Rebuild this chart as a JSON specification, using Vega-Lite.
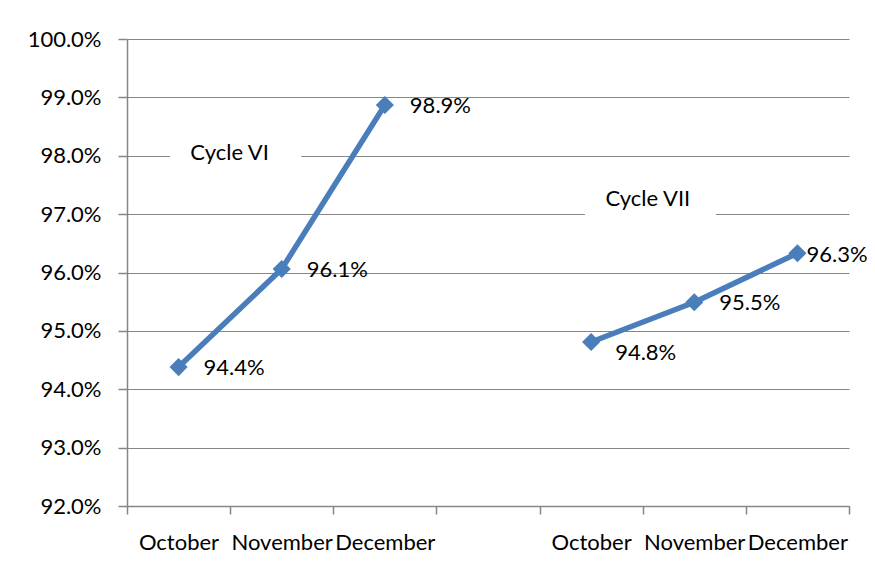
{
  "$schema": "https://vega.github.io/schema/vega-lite/v6.json",
  "width": 722,
  "height": 467,
  "autosize": {"type": "none"},
  "padding": {"left": 127, "top": 39, "right": 26, "bottom": 59},
  "background": "white",
  "config": {
    "view": {"stroke": null},
    "font": "Lato",
    "axis": {
      "labelFont": "Lato",
      "labelFontSize": 22,
      "labelColor": "#000000",
      "domainColor": "#868686",
      "tickColor": "#868686",
      "gridColor": "#868686",
      "domainWidth": 1.5,
      "tickWidth": 1.5,
      "gridWidth": 1.2
    }
  },
  "datasets": {
    "points": [
      {"cycle": "Cycle VI", "month": "October", "slot": 0.5, "rate": 0.9438},
      {"cycle": "Cycle VI", "month": "November", "slot": 1.5, "rate": 0.9606},
      {"cycle": "Cycle VI", "month": "December", "slot": 2.5, "rate": 0.9887},
      {"cycle": "Cycle VII", "month": "October", "slot": 4.5, "rate": 0.9481},
      {"cycle": "Cycle VII", "month": "November", "slot": 5.5, "rate": 0.9549},
      {"cycle": "Cycle VII", "month": "December", "slot": 6.5, "rate": 0.9633}
    ],
    "notes": [
      {"text": "Cycle VI", "x": 0.995, "x1": 0.417, "x2": 1.69, "y": 0.9805, "y1": 0.9836, "y2": 0.9772},
      {"text": "Cycle VII", "x": 5.05, "x1": 4.44, "x2": 5.71, "y": 0.9726, "y1": 0.9757, "y2": 0.9693}
    ]
  },
  "layer": [
    {
      "data": {"name": "notes"},
      "mark": {"type": "rect", "fill": "white"},
      "encoding": {
        "x": {"field": "x1", "type": "quantitative", "scale": {"domain": [0, 7]}, "axis": {
          "values": [0, 1, 2, 3, 4, 5, 6, 7],
          "title": null,
          "grid": false,
          "tickSize": 8,
          "labelPadding": 18,
          "labelOffset": 51.5,
          "labelOverlap": false,
          "labelFlush": false,
          "labelExpr": "['October','November','December','','October','November','December',''][datum.value]"
        }},
        "x2": {"field": "x2"},
        "y": {"field": "y1", "type": "quantitative", "scale": {"domain": [0.92, 1.0]}, "axis": {
          "values": [0.92, 0.93, 0.94, 0.95, 0.96, 0.97, 0.98, 0.99, 1.0],
          "format": ".1%",
          "title": null,
          "grid": true,
          "tickSize": 9,
          "labelPadding": 17
        }},
        "y2": {"field": "y2"}
      }
    },
    {
      "data": {"name": "notes"},
      "mark": {"type": "text", "fontSize": 22, "font": "Lato", "color": "#000000", "align": "center", "baseline": "middle"},
      "encoding": {
        "x": {"field": "x", "type": "quantitative"},
        "y": {"field": "y", "type": "quantitative"},
        "text": {"field": "text"}
      }
    },
    {
      "data": {"name": "points"},
      "mark": {"type": "line", "color": "#4A7EBB", "strokeWidth": 5.5},
      "encoding": {
        "x": {"field": "slot", "type": "quantitative"},
        "y": {"field": "rate", "type": "quantitative"},
        "detail": {"field": "cycle"}
      }
    },
    {
      "data": {"name": "points"},
      "mark": {"type": "point", "shape": "diamond", "filled": true, "color": "#4A7EBB", "size": 330, "opacity": 1},
      "encoding": {
        "x": {"field": "slot", "type": "quantitative"},
        "y": {"field": "rate", "type": "quantitative"}
      }
    },
    {
      "data": {"name": "points"},
      "transform": [{"filter": "!(datum.cycle == 'Cycle VII' && datum.month != 'November')"}],
      "mark": {"type": "text", "fontSize": 22, "font": "Lato", "color": "#000000", "align": "left", "baseline": "middle", "dx": 25, "dy": 1},
      "encoding": {
        "x": {"field": "slot", "type": "quantitative"},
        "y": {"field": "rate", "type": "quantitative"},
        "text": {"field": "rate", "type": "quantitative", "format": ".1%"}
      }
    },
    {
      "data": {"name": "points"},
      "transform": [{"filter": "datum.cycle == 'Cycle VII' && datum.month == 'October'"}],
      "mark": {"type": "text", "fontSize": 22, "font": "Lato", "color": "#000000", "align": "left", "baseline": "middle", "dx": 24, "dy": 11},
      "encoding": {
        "x": {"field": "slot", "type": "quantitative"},
        "y": {"field": "rate", "type": "quantitative"},
        "text": {"field": "rate", "type": "quantitative", "format": ".1%"}
      }
    },
    {
      "data": {"name": "points"},
      "transform": [{"filter": "datum.cycle == 'Cycle VII' && datum.month == 'December'"}],
      "mark": {"type": "text", "fontSize": 22, "font": "Lato", "color": "#000000", "align": "left", "baseline": "middle", "dx": 9, "dy": 2},
      "encoding": {
        "x": {"field": "slot", "type": "quantitative"},
        "y": {"field": "rate", "type": "quantitative"},
        "text": {"field": "rate", "type": "quantitative", "format": ".1%"}
      }
    }
  ]
}
